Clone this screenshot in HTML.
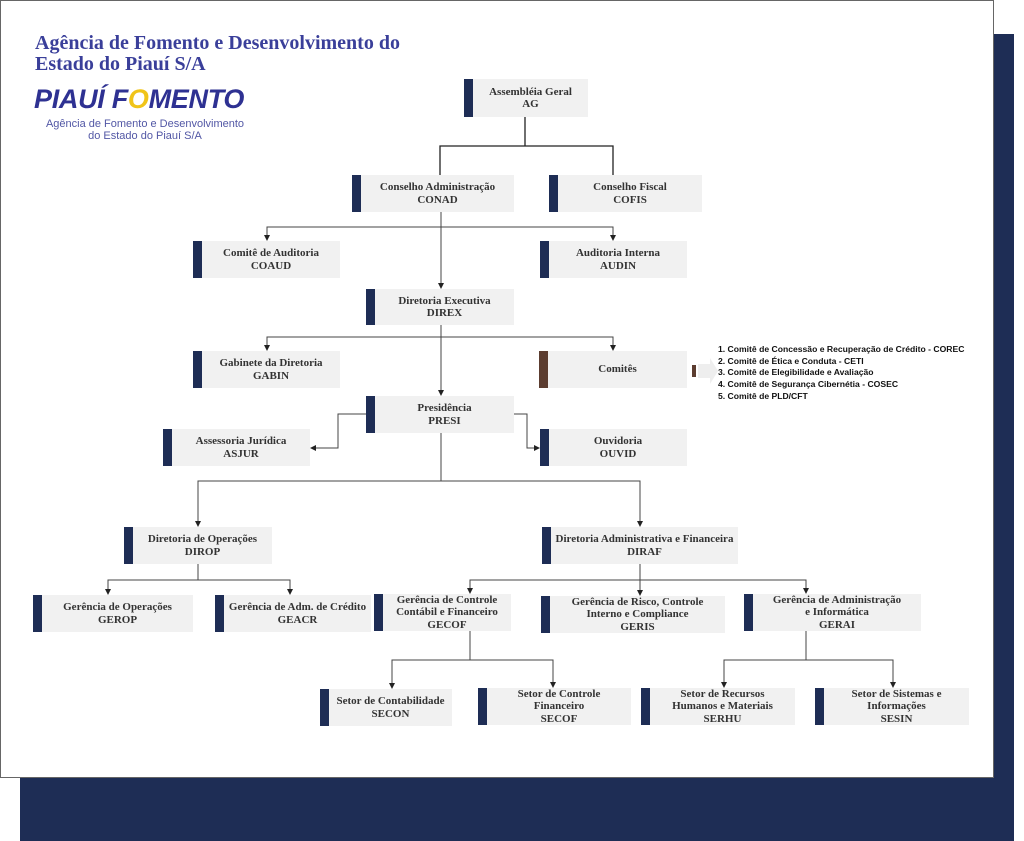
<!DOCTYPE html>
<html><head><meta charset="utf-8"><style>
*{margin:0;padding:0;box-sizing:border-box}
body{width:1024px;height:841px;position:relative;background:#fff;overflow:hidden;font-family:"Liberation Serif",serif}
.shadow{position:absolute;left:20px;top:34px;width:994px;height:807px;background:#1e2d55}
.page{position:absolute;left:0;top:0;width:994px;height:778px;background:#fff;border:1.5px solid #666}
.n{position:absolute;background:#f1f1f1;border-left:9px solid #1e2d55;display:flex;align-items:center;justify-content:center;text-align:center;font-weight:bold;font-size:11px;line-height:12.5px;color:#333;padding:0 4px}
.t{position:absolute;left:35px;top:33px;color:#3a3f9a;font-weight:bold;font-size:20px;line-height:21px}
.logo{position:absolute;left:34px;top:84px;font-family:"Liberation Sans",sans-serif;font-weight:bold;font-style:italic;font-size:27px;color:#2e3192;letter-spacing:-0.3px}
.sub{position:absolute;left:30px;top:118px;width:230px;text-align:center;font-family:"Liberation Sans",sans-serif;font-size:11px;line-height:12px;color:#5257a5}
.list{position:absolute;left:718px;top:344px;font-family:"Liberation Sans",sans-serif;font-weight:bold;font-size:8.6px;line-height:11.7px;color:#111}
svg{position:absolute;left:0;top:0}
</style></head><body>
<div class="shadow"></div>
<div class="page"></div>
<div class="t">Agência de Fomento e Desenvolvimento do<br>Estado do Piauí S/A</div>
<div class="logo">PIAUÍ F<span style="color:#f0c419">O</span>MENTO</div>
<div class="sub">Agência de Fomento e Desenvolvimento<br>do Estado do Piauí S/A</div>
<svg width="1024" height="841" viewBox="0 0 1024 841">
<defs><marker id="a" markerWidth="6" markerHeight="6" refX="5" refY="3" orient="auto"><path d="M0,0 L6,3 L0,6z" fill="#222"/></marker></defs>
<g fill="none" stroke="#444" stroke-width="1">
<path d="M525,117 V146 M440,175 V146 H613 V175" stroke="#222" stroke-width="1.3"/>
<path d="M441,212 V288" marker-end="url(#a)"/>
<path d="M441,227 H267 V240" marker-end="url(#a)"/>
<path d="M441,227 H613 V240" marker-end="url(#a)"/>
<path d="M441,325 V395" marker-end="url(#a)"/>
<path d="M441,337 H267 V350" marker-end="url(#a)"/>
<path d="M441,337 H613 V350" marker-end="url(#a)"/>
<path d="M366,414 H338 V448 H311" marker-end="url(#a)"/>
<path d="M514,414 H527 V448 H539" marker-end="url(#a)"/>
<path d="M441,433 V481 H198 V526" marker-end="url(#a)"/>
<path d="M441,481 H640 V526" marker-end="url(#a)"/>
<path d="M198,564 V580 H108 V594" marker-end="url(#a)"/>
<path d="M198,580 H290 V594" marker-end="url(#a)"/>
<path d="M640,564 V580 H470 V593" marker-end="url(#a)"/>
<path d="M640,580 V595" marker-end="url(#a)"/>
<path d="M640,580 H806 V593" marker-end="url(#a)"/>
<path d="M470,631 V660 H392 V688" marker-end="url(#a)"/>
<path d="M470,660 H553 V687" marker-end="url(#a)"/>
<path d="M806,631 V660 H724 V687" marker-end="url(#a)"/>
<path d="M806,660 H893 V687" marker-end="url(#a)"/>
</g>
<rect x="692" y="365" width="4" height="12" fill="#5c3d30"/>
<path d="M698,364 H710 V358 L718,371 L710,384 V378 H698z" fill="#eee"/>
</svg>
<div class="n" style="left:464px;top:79px;width:124px;height:38px">Assembléia Geral<br>AG</div>
<div class="n" style="left:352px;top:175px;width:162px;height:37px">Conselho Administração<br>CONAD</div>
<div class="n" style="left:549px;top:175px;width:153px;height:37px">Conselho Fiscal<br>COFIS</div>
<div class="n" style="left:193px;top:241px;width:147px;height:37px">Comitê de Auditoria<br>COAUD</div>
<div class="n" style="left:540px;top:241px;width:147px;height:37px">Auditoria Interna<br>AUDIN</div>
<div class="n" style="left:366px;top:289px;width:148px;height:36px">Diretoria Executiva<br>DIREX</div>
<div class="n" style="left:193px;top:351px;width:147px;height:37px">Gabinete da Diretoria<br>GABIN</div>
<div class="n" style="left:539px;top:351px;width:148px;height:37px;border-left-color:#5c3d30">Comitês</div>
<div class="n" style="left:366px;top:396px;width:148px;height:37px">Presidência<br>PRESI</div>
<div class="n" style="left:163px;top:429px;width:147px;height:37px">Assessoria Jurídica<br>ASJUR</div>
<div class="n" style="left:540px;top:429px;width:147px;height:37px">Ouvidoria<br>OUVID</div>
<div class="n" style="left:124px;top:527px;width:148px;height:37px">Diretoria de Operações<br>DIROP</div>
<div class="n" style="left:542px;top:527px;width:196px;height:37px;padding:0">Diretoria Administrativa e Financeira<br>DIRAF</div>
<div class="n" style="left:33px;top:595px;width:160px;height:37px">Gerência de Operações<br>GEROP</div>
<div class="n" style="left:215px;top:595px;width:156px;height:37px;padding:0">Gerência de Adm. de Crédito<br>GEACR</div>
<div class="n" style="left:374px;top:594px;width:137px;height:37px;padding:0">Gerência de Controle<br>Contábil e Financeiro<br>GECOF</div>
<div class="n" style="left:541px;top:596px;width:184px;height:37px">Gerência de Risco, Controle<br>Interno e Compliance<br>GERIS</div>
<div class="n" style="left:744px;top:594px;width:177px;height:37px">Gerência de Administração<br>e Informática<br>GERAI</div>
<div class="n" style="left:320px;top:689px;width:132px;height:37px;padding:0">Setor de Contabilidade<br>SECON</div>
<div class="n" style="left:478px;top:688px;width:153px;height:37px">Setor de Controle<br>Financeiro<br>SECOF</div>
<div class="n" style="left:641px;top:688px;width:154px;height:37px">Setor de Recursos<br>Humanos e Materiais<br>SERHU</div>
<div class="n" style="left:815px;top:688px;width:154px;height:37px">Setor de Sistemas e<br>Informações<br>SESIN</div>
<div class="list">1. Comitê de Concessão e Recuperação de Crédito - COREC<br>2. Comitê de Ética e Conduta - CETI<br>3. Comitê de Elegibilidade e Avaliação<br>4. Comitê de Segurança Cibernétia - COSEC<br>5. Comitê de PLD/CFT</div>
</body></html>
